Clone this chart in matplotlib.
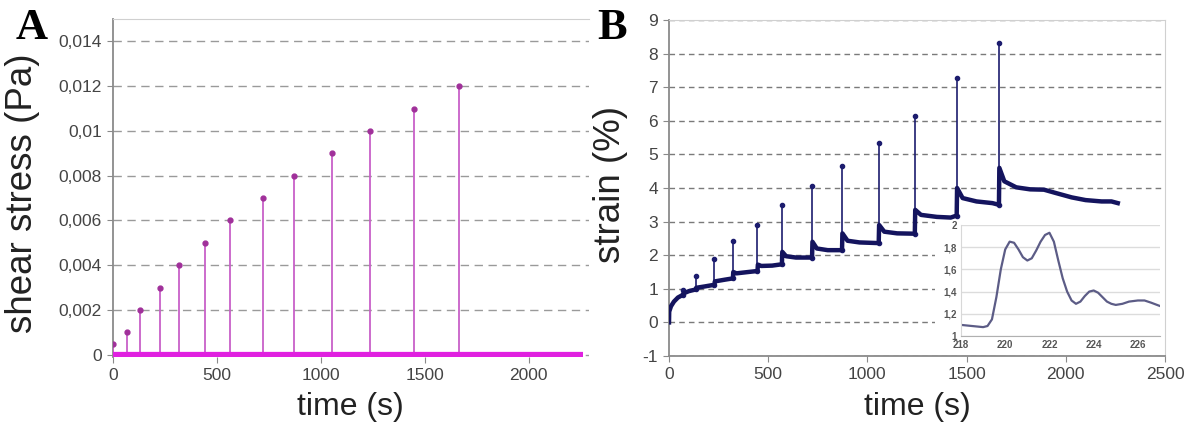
import matplotlib.pyplot as plt
from matplotlib.patches import Rectangle

# Panel A: stress pulses
pulse_t = [0, 68, 132, 226, 318, 443, 565, 720, 873, 1055, 1235, 1450, 1663]
pulse_s = [0.0005, 0.001, 0.002, 0.003, 0.004, 0.005, 0.006, 0.007, 0.008, 0.009, 0.010, 0.011, 0.012]
base_t = [0, 2262]
base_s = [0, 0]
a_yticks = [0, 0.002, 0.004, 0.006, 0.008, 0.010, 0.012, 0.014]
a_ylabels = ['0', '0,002', '0,004', '0,006', '0,008', '0,01', '0,012', '0,014']
a_xticks = [0, 500, 1000, 1500, 2000]

# Panel B: creep strain
creep_t = [0, 1, 10, 25, 45, 70,
           72, 100, 135,
           137, 180, 229,
           231, 280, 322,
           324, 340, 400, 446,
           448, 465, 520, 569,
           571, 590, 640, 721,
           723, 745, 800, 872,
           874, 900, 960, 1057,
           1059, 1085, 1150, 1239,
           1241, 1270, 1350, 1420, 1450,
           1452, 1480, 1550, 1630, 1663,
           1665, 1690, 1750, 1820, 1890, 1950, 2030, 2100, 2180, 2230, 2262]
creep_v = [0.0, 0.32, 0.48, 0.62, 0.74, 0.82,
           0.86, 0.93, 0.98,
           1.03, 1.07, 1.12,
           1.22, 1.27, 1.31,
           1.50, 1.46, 1.50, 1.53,
           1.72, 1.68, 1.69, 1.73,
           2.10, 1.97, 1.93, 1.93,
           2.40, 2.20, 2.15, 2.15,
           2.65, 2.43, 2.38, 2.36,
           2.90, 2.70, 2.65, 2.64,
           3.35, 3.20, 3.14, 3.12, 3.18,
           4.00, 3.70, 3.60, 3.55, 3.50,
           4.60, 4.20, 4.02, 3.96, 3.95, 3.85, 3.72, 3.64, 3.60, 3.60, 3.55]
spike_t = [70, 135, 229, 322, 446, 569, 721, 872, 1057, 1239, 1450, 1663]
spike_lo = [0.82, 0.98, 1.12, 1.31, 1.53, 1.73, 1.93, 2.15, 2.36, 2.64, 3.18, 3.50]
spike_hi = [0.95, 1.38, 1.88, 2.42, 2.90, 3.48, 4.05, 4.65, 5.35, 6.15, 7.27, 8.33]
b_yticks = list(range(-1, 10))
b_xticks = [0, 500, 1000, 1500, 2000, 2500]

# Inset: strain oscillation around one step
ins_t = [218, 218.5, 219, 219.2, 219.4, 219.6, 219.8, 220, 220.2, 220.4, 220.6, 220.8,
         221, 221.2, 221.4, 221.6, 221.8, 222, 222.2, 222.4, 222.6, 222.8, 223, 223.2,
         223.4, 223.6, 223.8, 224, 224.2, 224.4, 224.6, 224.8, 225, 225.3, 225.6,
         226, 226.3, 226.6, 227]
ins_v = [1.10, 1.09, 1.08, 1.09, 1.15, 1.35, 1.60, 1.78, 1.85, 1.84, 1.78, 1.71,
         1.68, 1.70, 1.77, 1.85, 1.91, 1.93, 1.85, 1.68, 1.52, 1.40, 1.32, 1.29,
         1.31, 1.36, 1.40, 1.41, 1.39, 1.35, 1.31, 1.29, 1.28, 1.29, 1.31,
         1.32, 1.32, 1.30, 1.27]
ins_yticks = [1, 1.2, 1.4, 1.6, 1.8, 2]
ins_ylabels = ['1', '1,2', '1,4', '1,6', '1,8', '2']
ins_xticks = [218, 220, 222, 224, 226]

W, H = 1188, 425
plt.rcParams['font.family'] = ['Liberation Sans', 'DejaVu Sans']
plt.rcParams['axes.unicode_minus'] = False
fig = plt.figure(figsize=(W / 100, H / 100), dpi=100)


def box(x0, y0, x1, y1):
    # pixel box (top-left origin) -> figure fraction
    return [x0 / W, 1 - y1 / H, (x1 - x0) / W, (y1 - y0) / H]


def excel_style(ax):
    for s in ['left', 'bottom']:
        ax.spines[s].set_color('#8a8a8a')
        ax.spines[s].set_linewidth(1.3)
    ax.spines['top'].set_color('#d0d0d0')
    ax.tick_params(direction='out', length=4, color='#8a8a8a', labelsize=12.5,
                   labelcolor='#444444', pad=4)


# ---- panel A ----
axA = fig.add_axes(box(113, 19, 589, 357))
excel_style(axA)
axA.spines['right'].set_visible(False)
axA.spines['bottom'].set_visible(False)
axA.vlines(pulse_t, 0, pulse_s, color='#c860c8', linewidth=1.3, zorder=3)
axA.plot(pulse_t, pulse_s, 'o', color='#a0309a', markersize=3.5, zorder=4)
axA.plot(base_t, base_s, color='#e020e0', linewidth=4.5, solid_capstyle='butt', zorder=5)
axA.set_xlim(0, 2290)
axA.set_ylim(-0.0001, 0.015)
axA.set_yticks(a_yticks)
axA.set_yticklabels(a_ylabels)
axA.set_xticks(a_xticks)
axA.yaxis.grid(True, linestyle=(0, (6, 4)), color='#9a9a9a', linewidth=1)
axA.set_axisbelow(True)
axA.set_xlabel('time (s)', fontsize=23, color='#222222')
axA.set_ylabel('shear stress (Pa)', fontsize=26.5, color='#222222')
axA.xaxis.set_label_coords(0.498, -0.104)
axA.yaxis.set_label_coords(-0.153, 0.484)

# ---- panel B ----
axB = fig.add_axes(box(669, 20, 1165, 356))
excel_style(axB)
axB.spines['right'].set_color('#d0d0d0')
axB.vlines(spike_t, spike_lo, spike_hi, color='#1c1c6e', linewidth=1.2, zorder=3)
axB.plot(spike_t, spike_hi, 'o', color='#1c1c6e', markersize=3, zorder=3)
axB.plot(spike_t, spike_lo, 'o', color='#1c1c6e', markersize=3, zorder=3)
axB.plot(creep_t, creep_v, color='#14145e', linewidth=3.2, zorder=4)
axB.set_xlim(0, 2500)
axB.set_ylim(-1, 9)
axB.set_yticks(b_yticks)
axB.set_xticks(b_xticks)
axB.yaxis.grid(True, linestyle=(0, (4, 3)), color='#7a7a7a', linewidth=1)
axB.set_axisbelow(True)
axB.set_xlabel('time (s)', fontsize=23, color='#222222')
axB.set_ylabel('strain (%)', fontsize=26.5, color='#222222')
axB.xaxis.set_label_coords(0.5, -0.107)
axB.yaxis.set_label_coords(-0.083, 0.51)

# white backing behind inset (above grid, below curve)
axB.add_patch(Rectangle((935 / W, 1 - 353 / H), (1164 - 935) / W, (353 - 218) / H,
                        transform=fig.transFigure, facecolor='white',
                        edgecolor='none', zorder=2, clip_on=False))

# ---- inset ----
axI = fig.add_axes(box(961, 225, 1160, 336))
axI.set_zorder(3)
axI.plot(ins_t, ins_v, color='#5c5c86', linewidth=1.6)
axI.set_xlim(218, 227)
axI.set_ylim(1, 2)
axI.set_yticks(ins_yticks)
axI.set_yticklabels(ins_ylabels)
axI.set_xticks(ins_xticks)
axI.yaxis.grid(True, color='#dcdcdc', linewidth=1)
axI.set_axisbelow(True)
for s in ['top', 'right']:
    axI.spines[s].set_visible(False)
axI.spines['left'].set_color('#d8d8d8')
axI.spines['bottom'].set_color('#b0b0b0')
axI.tick_params(length=0, labelsize=7, labelcolor='#555555', pad=3)
for lab in axI.get_xticklabels() + axI.get_yticklabels():
    lab.set_fontweight('bold')

# panel letters
fig.text(16 / W, 1 - 8 / H, 'A', family='Liberation Serif', fontweight='bold',
         fontsize=32, va='top', ha='left')
fig.text(597 / W, 1 - 8 / H, 'B', family='Liberation Serif', fontweight='bold',
         fontsize=32, va='top', ha='left')

fig.savefig('out.png', dpi=100)
